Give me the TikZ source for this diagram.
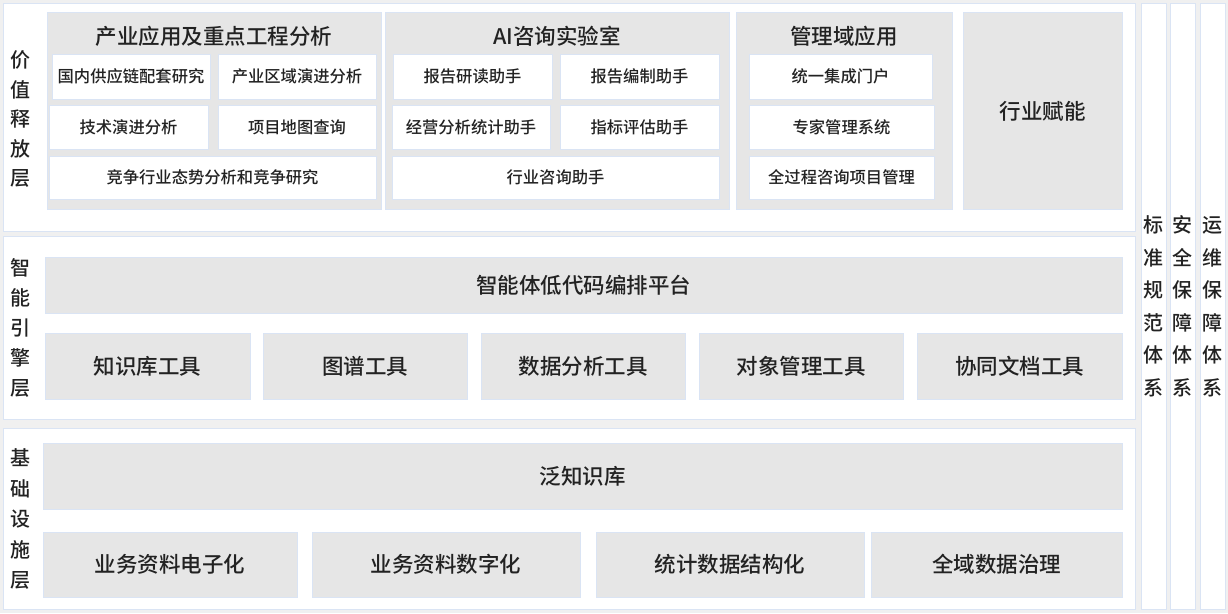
\documentclass[tikz,border=0pt]{standalone}
\usepackage{fontspec}
\setmainfont{Noto Sans CJK SC Medium}
\usetikzlibrary{fit}
\definecolor{bgc}{HTML}{F0F0F0}
\definecolor{bord}{HTML}{DAE4F4}
\definecolor{gfill}{HTML}{E6E6E6}
\definecolor{txt}{HTML}{222222}
\begin{document}
\begin{tikzpicture}[x=1pt,y=-1pt,
  panel/.style={draw=bord,fill=white,line width=0.8pt,inner sep=0pt,outer sep=0pt},
  gbox/.style={draw=bord,fill=gfill,line width=0.8pt,inner sep=0pt,outer sep=0pt,text=txt,font=\fontsize{21.5}{25}\selectfont},
  wbox/.style={draw=bord,fill=white,line width=0.8pt,inner sep=0pt,outer sep=0pt,text=txt,font=\fontsize{16.3}{19}\selectfont},
  gtitle/.style={text=txt,font=\fontsize{21.5}{25}\selectfont,inner sep=0pt},
  vlabel/.style={text=txt,font=\fontsize{20}{23}\selectfont,inner sep=0pt}
]
\useasboundingbox (0,0) rectangle (1228,613);
\fill[bgc] (0,0) rectangle (1228,613);

% panels
\node[panel,fit={(3,3) (1135,231)}] (p1) {};
\node[panel,fit={(3,236) (1135,419)}] (p2) {};
\node[panel,fit={(3,428) (1135,609)}] (p3) {};
\node[panel,fit={(1141,3) (1166,609)}] (c1) {};
\node[panel,fit={(1170,3) (1195,609)}] (c2) {};
\node[panel,fit={(1200,3) (1225,609)}] (c3) {};

% top groups
\node[gbox,fit={(47,12) (381,209)}] (g1) {};
\node[gtitle] (g1t) at (214,36) {产业应用及重点工程分析};
\node[gbox,fit={(385,12) (729,209)}] (g2) {};
\node[gtitle] (g2t) at (557,36) {AI咨询实验室};
\node[gbox,fit={(736,12) (952,209)}] (g3) {};
\node[gtitle] (g3t) at (844,36) {管理域应用};
\node[gbox,fit={(963,12) (1122,209)}] (g4) {};
\node[gtitle] (g4t) at (1042.5,111) {行业赋能};

% group 1 items
\node[wbox,fit={(52,54) (210,99)}] (a1) {};
\node[wbox,fit={(218,54) (376,99)}] (a2) {};
\node[wbox,fit={(49,105) (208,149)}] (a3) {};
\node[wbox,fit={(218,105) (376,149)}] (a4) {};
\node[wbox,fit={(49,156) (376,199)}] (a5) {};
\node[wbox,draw=none,fill=none] (a1t) at (a1.center) {国内供应链配套研究};
\node[wbox,draw=none,fill=none] (a2t) at (a2.center) {产业区域演进分析};
\node[wbox,draw=none,fill=none] (a3t) at (a3.center) {技术演进分析};
\node[wbox,draw=none,fill=none] (a4t) at (a4.center) {项目地图查询};
\node[wbox,draw=none,fill=none] (a5t) at (a5.center) {竞争行业态势分析和竞争研究};

% group 2 items
\node[wbox,fit={(393,54) (552,99)}] (b1) {};
\node[wbox,fit={(560,54) (719,99)}] (b2) {};
\node[wbox,fit={(392,105) (550,149)}] (b3) {};
\node[wbox,fit={(560,105) (719,149)}] (b4) {};
\node[wbox,fit={(392,156) (719,199)}] (b5) {};
\node[wbox,draw=none,fill=none] (b1t) at (b1.center) {报告研读助手};
\node[wbox,draw=none,fill=none] (b2t) at (b2.center) {报告编制助手};
\node[wbox,draw=none,fill=none] (b3t) at (b3.center) {经营分析统计助手};
\node[wbox,draw=none,fill=none] (b4t) at (b4.center) {指标评估助手};
\node[wbox,draw=none,fill=none] (b5t) at (b5.center) {行业咨询助手};

% group 3 items
\node[wbox,fit={(749,54) (932,99)}] (m1) {};
\node[wbox,fit={(749,105) (934,149)}] (m2) {};
\node[wbox,fit={(749,156) (934,199)}] (m3) {};
\node[wbox,draw=none,fill=none] (m1t) at (m1.center) {统一集成门户};
\node[wbox,draw=none,fill=none] (m2t) at (m2.center) {专家管理系统};
\node[wbox,draw=none,fill=none] (m3t) at (m3.center) {全过程咨询项目管理};

% middle layer
\node[gbox,fit={(45,257) (1122,313)}] (e0) {};
\node[gbox,draw=none,fill=none] (e0t) at (e0.center) {智能体低代码编排平台};
\node[gbox,fit={(45,333) (250,399)}] (e1) {};
\node[gbox,fit={(263,333) (467,399)}] (e2) {};
\node[gbox,fit={(481,333) (685,399)}] (e3) {};
\node[gbox,fit={(699,333) (903,399)}] (e4) {};
\node[gbox,fit={(917,333) (1122,399)}] (e5) {};
\node[gbox,draw=none,fill=none] (e1t) at (e1.center) {知识库工具};
\node[gbox,draw=none,fill=none] (e2t) at (e2.center) {图谱工具};
\node[gbox,draw=none,fill=none] (e3t) at (e3.center) {数据分析工具};
\node[gbox,draw=none,fill=none] (e4t) at (e4.center) {对象管理工具};
\node[gbox,draw=none,fill=none] (e5t) at (e5.center) {协同文档工具};

% bottom layer
\node[gbox,fit={(43,443) (1122,509)}] (f0) {};
\node[gbox,draw=none,fill=none] (f0t) at (f0.center) {泛知识库};
\node[gbox,fit={(43,532) (297,597)}] (f1) {};
\node[gbox,fit={(312,532) (580,597)}] (f2) {};
\node[gbox,fit={(596,532) (864,597)}] (f3) {};
\node[gbox,fit={(871,532) (1122,597)}] (f4) {};
\node[gbox,draw=none,fill=none] (f1t) at (f1.center) {业务资料电子化};
\node[gbox,draw=none,fill=none] (f2t) at (f2.center) {业务资料数字化};
\node[gbox,draw=none,fill=none] (f3t) at (f3.center) {统计数据结构化};
\node[gbox,draw=none,fill=none] (f4t) at (f4.center) {全域数据治理};

% left layer labels
\foreach \c [count=\i from 0] in {价,值,释,放,层}
  \node[vlabel] (la\i) at (20,60+29.5*\i) {\c};
\foreach \c [count=\i from 0] in {智,能,引,擎,层}
  \node[vlabel] (lb\i) at (20,268+30*\i) {\c};
\foreach \c [count=\i from 0] in {基,础,设,施,层}
  \node[vlabel] (lc\i) at (20,458+30.5*\i) {\c};

% right column labels
\foreach \c [count=\i from 0] in {标,准,规,范,体,系}
  \node[vlabel] (ra\i) at (1153.5,225+32.6*\i) {\c};
\foreach \c [count=\i from 0] in {安,全,保,障,体,系}
  \node[vlabel] (rb\i) at (1182.5,225+32.6*\i) {\c};
\foreach \c [count=\i from 0] in {运,维,保,障,体,系}
  \node[vlabel] (rc\i) at (1212.5,225+32.6*\i) {\c};
\end{tikzpicture}
\end{document}
